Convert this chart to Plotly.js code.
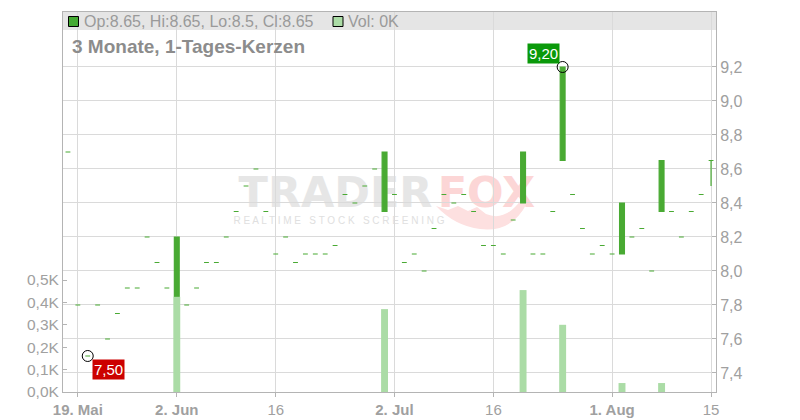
<!DOCTYPE html>
<html>
<head>
<meta charset="utf-8">
<script src="https://cdn.plot.ly/plotly-3.0.1.min.js"></script>
<style>html,body{margin:0;padding:0;background:#fff;}#chart{width:800px;height:420px;}</style>
</head>
<body>
<div id="chart"></div>
<script>
// ---- data ----
const dates = [
  '2025-05-16',
  '2025-05-19','2025-05-20','2025-05-21','2025-05-22','2025-05-23',
  '2025-05-26','2025-05-27','2025-05-28','2025-05-29','2025-05-30',
  '2025-06-02','2025-06-03','2025-06-04','2025-06-05','2025-06-06',
  '2025-06-09','2025-06-10','2025-06-11','2025-06-12','2025-06-13',
  '2025-06-16','2025-06-17','2025-06-18','2025-06-19','2025-06-20',
  '2025-06-23','2025-06-24','2025-06-25','2025-06-26','2025-06-27',
  '2025-06-30','2025-07-01','2025-07-02','2025-07-03','2025-07-04',
  '2025-07-07','2025-07-08','2025-07-09','2025-07-10','2025-07-11',
  '2025-07-14','2025-07-15','2025-07-16','2025-07-17','2025-07-18',
  '2025-07-21','2025-07-22','2025-07-23','2025-07-24','2025-07-25',
  '2025-07-28','2025-07-29','2025-07-30','2025-07-31','2025-08-01',
  '2025-08-04','2025-08-05','2025-08-06','2025-08-07','2025-08-08',
  '2025-08-11','2025-08-12','2025-08-13','2025-08-14','2025-08-15'
];
const openP = [
  8.70,
  7.80,7.50,7.80,7.60,7.75,
  7.90,7.90,8.20,8.05,7.90,
  7.85,7.80,7.90,8.05,8.05,
  8.20,8.35,8.50,8.60,8.35,
  8.10,8.20,8.05,8.10,8.10,
  8.10,8.15,8.45,8.40,8.50,
  8.60,8.35,8.45,8.05,8.10,
  8.00,8.25,8.45,8.40,8.45,
  8.35,8.15,8.15,8.10,8.30,
  8.40,8.10,8.10,8.35,8.65,
  8.45,8.25,8.10,8.15,8.10,
  8.10,8.20,8.25,8.00,8.35,
  8.35,8.20,8.35,8.45,8.65
];
const highP = [
  8.70,
  7.80,7.50,7.80,7.60,7.75,
  7.90,7.90,8.20,8.05,7.90,
  8.20,7.80,7.90,8.05,8.05,
  8.20,8.35,8.50,8.60,8.35,
  8.10,8.20,8.05,8.10,8.10,
  8.10,8.15,8.45,8.40,8.50,
  8.60,8.70,8.45,8.05,8.10,
  8.00,8.25,8.45,8.40,8.45,
  8.35,8.15,8.15,8.10,8.30,
  8.70,8.10,8.10,8.35,9.20,
  8.45,8.25,8.10,8.15,8.10,
  8.40,8.20,8.25,8.00,8.65,
  8.35,8.20,8.35,8.45,8.65
];
const lowP = [
  8.70,
  7.80,7.50,7.80,7.60,7.75,
  7.90,7.90,8.20,8.05,7.90,
  7.85,7.80,7.90,8.05,8.05,
  8.20,8.35,8.50,8.60,8.35,
  8.10,8.20,8.05,8.10,8.10,
  8.10,8.15,8.45,8.40,8.50,
  8.60,8.35,8.45,8.05,8.10,
  8.00,8.25,8.45,8.40,8.45,
  8.35,8.15,8.15,8.10,8.30,
  8.40,8.10,8.10,8.35,8.65,
  8.45,8.25,8.10,8.15,8.10,
  8.10,8.20,8.25,8.00,8.35,
  8.35,8.20,8.35,8.45,8.50
];
const closeP = [
  8.70,
  7.80,7.50,7.80,7.60,7.75,
  7.90,7.90,8.20,8.05,7.90,
  8.20,7.80,7.90,8.05,8.05,
  8.20,8.35,8.50,8.60,8.35,
  8.10,8.20,8.05,8.10,8.10,
  8.10,8.15,8.45,8.40,8.50,
  8.60,8.70,8.45,8.05,8.10,
  8.00,8.25,8.45,8.40,8.45,
  8.35,8.15,8.15,8.10,8.30,
  8.70,8.10,8.10,8.35,9.20,
  8.45,8.25,8.10,8.15,8.10,
  8.40,8.20,8.25,8.00,8.65,
  8.35,8.20,8.35,8.45,8.65
];
// volume in thousands
const volumeK = [
  0,
  0,0,0,0,0,
  0,0,0,0,0,
  0.425,0,0,0,0,
  0,0,0,0,0,
  0,0,0,0,0,
  0,0,0,0,0,
  0,0.37,0,0,0,
  0,0,0,0,0,
  0,0,0,0,0,
  0.455,0,0,0,0.30,
  0,0,0,0,0,
  0.04,0,0,0,0.04,
  0,0,0,0,0
];
const xTickVals = ['2025-05-19','2025-06-02','2025-06-16','2025-07-02','2025-07-16','2025-08-01','2025-08-15'];
const xTickText = ['<b>19. Mai</b>','<b>2. Jun</b>','16','<b>2. Jul</b>','16','<b>1. Aug</b>','15'];
const priceTicks = [7.4,7.6,7.8,8.0,8.2,8.4,8.6,8.8,9.0,9.2];
const volTicks = [0,0.1,0.2,0.3,0.4,0.5];
const legendText = 'Op:8.65, Hi:8.65, Lo:8.5, Cl:8.65';
const volLegendText = 'Vol: 0K';
const titleText = '3 Monate, 1-Tages-Kerzen';

// ---- derived ----
let iMin = 0, iMax = 0;
for (let i = 0; i < lowP.length; i++) {
  if (lowP[i] < lowP[iMin]) iMin = i;
  if (highP[i] > highP[iMax]) iMax = i;
}
const fmt = v => v.toFixed(2).replace('.', ',');
const volTickText = volTicks.map(v => v.toFixed(1).replace('.', ',') + 'K');

// ---- geometry helpers (pixel -> paper) ----
const L = 63, R = 716, T = 12, B = 392;
const px = x => (x - L) / (R - L);
const py = y => (B - y) / (B - T);

const FONT = 'Liberation Sans, Arial, sans-serif';
const GREEN = '#49aa33';
const VOLGREEN = '#abdca6';
const GRID = '#dadada';
const AXIS = '#b4b4b4';
const TXT = '#a0a0a0';

const traces = [
  {
    type: 'candlestick', x: dates, open: openP, high: highP, low: lowP, close: closeP,
    xaxis: 'x', yaxis: 'y',
    increasing: { line: { color: GREEN, width: 1.2 }, fillcolor: GREEN },
    decreasing: { line: { color: GREEN, width: 1.2 }, fillcolor: GREEN },
    whiskerwidth: 0, hoverinfo: 'skip'
  },
  {
    type: 'scatter', mode: 'markers', x: [dates[iMin], dates[iMax]], y: [lowP[iMin], highP[iMax]],
    xaxis: 'x', yaxis: 'y',
    marker: { symbol: 'circle-open', size: 11, color: '#000', line: { width: 1, color: '#000' } },
    hoverinfo: 'skip'
  },
  {
    type: 'bar', x: dates, y: volumeK, xaxis: 'x', yaxis: 'y2',
    marker: { color: VOLGREEN, line: { width: 0 } }, width: 0.7, hoverinfo: 'skip'
  }
];

// fox tail path in pixel coordinates converted to paper
const tailPts = [
  ['M',436,206],['L',448,210],['L',458,206],['L',468,211],['L',477,207],['L',486,214],
  ['Q',505,222,521,200],['L',527,203],['Q',512,233,480,229],['Q',455,226,436,206]
];
let tailPath = '';
tailPts.forEach(p => {
  tailPath += p[0] + ' ';
  for (let k = 1; k < p.length; k += 2) tailPath += px(p[k]).toFixed(4) + ',' + py(p[k+1]).toFixed(4) + ' ';
});
tailPath += 'Z';

const layout = {
  width: 800, height: 420,
  margin: { l: L, r: 800 - R, t: T, b: 420 - B, pad: 0 },
  paper_bgcolor: '#fff', plot_bgcolor: '#fff',
  separators: ',.',
  showlegend: false,
  font: { family: FONT, color: TXT },
  xaxis: {
    type: 'category', range: [-0.5, dates.length - 0.5],
    tickmode: 'array', tickvals: xTickVals, ticktext: xTickText,
    showgrid: true, gridcolor: GRID, gridwidth: 1,
    showline: true, linecolor: AXIS, linewidth: 1, mirror: true,
    ticks: 'outside', ticklen: 4, tickcolor: AXIS,
    tickfont: { size: 15, color: TXT, family: FONT },
    rangeslider: { visible: false }, fixedrange: true, zeroline: false
  },
  yaxis: {
    side: 'right', range: [7.2882, 9.5235],
    tickmode: 'array', tickvals: priceTicks, tickformat: '.1f',
    showgrid: true, gridcolor: GRID, gridwidth: 1,
    showline: true, linecolor: AXIS, linewidth: 1,
    ticks: 'inside', ticklen: 4, tickcolor: AXIS,
    tickfont: { size: 16, color: TXT, family: FONT },
    zeroline: false, fixedrange: true
  },
  yaxis2: {
    overlaying: 'y', side: 'left', range: [0, 1.6964],
    tickmode: 'array', tickvals: volTicks, ticktext: volTickText,
    showgrid: false, showline: true, linecolor: AXIS, linewidth: 1,
    ticks: 'inside', ticklen: 4, tickcolor: AXIS,
    tickfont: { size: 15.5, color: TXT, family: FONT },
    zeroline: false, fixedrange: true
  },
  shapes: [
    { type: 'rect', xref: 'paper', yref: 'paper', x0: 0, x1: 1, y0: py(30), y1: 1,
      fillcolor: '#e5e5e5', line: { width: 0 }, layer: 'below' },
    { type: 'rect', xref: 'paper', yref: 'paper', x0: px(238), x1: px(433), y0: py(208), y1: py(170),
      line: { width: 0 }, fillcolor: 'rgba(0,0,0,0)', layer: 'below',
      label: { text: 'TRADER', textposition: 'middle center',
        font: { family: 'DejaVu Sans, sans-serif', size: 43, color: '#e6e6e6', weight: 'bold' } } },
    { type: 'rect', xref: 'paper', yref: 'paper', x0: px(431), x1: px(542), y0: py(208), y1: py(170),
      line: { width: 0 }, fillcolor: 'rgba(0,0,0,0)', layer: 'below',
      label: { text: 'FOX', textposition: 'middle center',
        font: { family: 'DejaVu Sans, sans-serif', size: 43, color: '#fcd6d6', weight: 'bold' } } },
    { type: 'rect', xref: 'paper', yref: 'paper', x0: px(248), x1: px(430), y0: py(226), y1: py(212),
      line: { width: 0 }, fillcolor: 'rgba(0,0,0,0)', layer: 'below',
      label: { text: 'R E A L T I M E   S T O C K   S C R E E N I N G', textposition: 'middle center',
        font: { family: FONT, size: 10, color: '#e0e0e0' } } },
    { type: 'path', xref: 'paper', yref: 'paper', path: tailPath,
      fillcolor: '#fde0e0', line: { width: 0 }, layer: 'below' },
    { type: 'rect', xref: 'paper', yref: 'paper', x0: px(68.5), x1: px(78.5), y0: py(26.5), y1: py(16.5),
      fillcolor: '#44aa33', line: { color: '#000', width: 1 }, layer: 'above' },
    { type: 'rect', xref: 'paper', yref: 'paper', x0: px(333), x1: px(343), y0: py(26.5), y1: py(16.5),
      fillcolor: VOLGREEN, line: { color: '#000', width: 1 }, layer: 'above' }
  ],
  annotations: [
    { xref: 'paper', yref: 'paper', x: px(82), y: py(21.5), xanchor: 'left', yanchor: 'middle',
      text: legendText, showarrow: false, font: { size: 16, color: '#9a9a9a', family: FONT } },
    { xref: 'paper', yref: 'paper', x: px(346), y: py(21.5), xanchor: 'left', yanchor: 'middle',
      text: volLegendText, showarrow: false, font: { size: 16, color: '#9a9a9a', family: FONT } },
    { xref: 'paper', yref: 'paper', x: px(70), y: py(47), xanchor: 'left', yanchor: 'middle',
      text: '<b>' + titleText + '</b>', showarrow: false, font: { size: 19, color: '#8c8c8c', family: FONT } },
    { xref: 'x', yref: 'y', x: dates[iMin], y: lowP[iMin], xshift: 20.5, yshift: -14,
      text: fmt(lowP[iMin]), showarrow: false, bgcolor: '#cc0000', borderpad: 1,
      font: { size: 15, color: '#fff', family: FONT } },
    { xref: 'x', yref: 'y', x: dates[iMax], y: highP[iMax], xshift: -19.5, yshift: 13.5,
      text: fmt(highP[iMax]), showarrow: false, bgcolor: '#0a990a', borderpad: 1,
      font: { size: 15, color: '#fff', family: FONT } }
  ]
};

Plotly.newPlot('chart', traces, layout, { staticPlot: true, displayModeBar: false });
</script>
</body>
</html>
